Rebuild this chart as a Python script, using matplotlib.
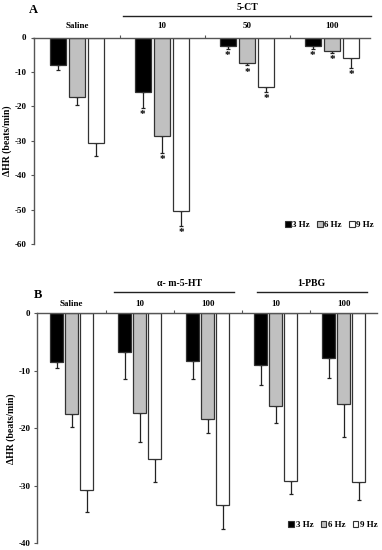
import matplotlib
matplotlib.use("Agg")
import matplotlib.pyplot as plt
import matplotlib.transforms as mtransforms
from matplotlib.patches import Patch
import numpy as np

plt.rcParams['font.family'] = ['Liberation Serif', 'DejaVu Serif']
plt.rcParams['font.weight'] = 'bold'

freqs = ["3 Hz", "6 Hz", "9 Hz"]
colors = ["#000000", "#c0c0c0", "#ffffff"]

# Panel A
a_groups = ["Saline", "10", "50", "100"]
a_3hz = [-8.1, -15.7, -2.4, -2.4]
a_6hz = [-17.2, -28.5, -7.3, -3.8]
a_9hz = [-30.7, -50.2, -14.4, -6.0]
a_3hz_err = [1.4, 4.8, 1.0, 0.9]
a_6hz_err = [2.5, 4.9, 0.8, 0.8]
a_9hz_err = [3.6, 4.6, 1.3, 2.9]
a_sig = [False, True, True, True]
a_yticks = [0, -10, -20, -30, -40, -50, -60]

# Panel B
b_groups = ["Saline", "10", "100", "10", "100"]
b_3hz = [-8.4, -6.8, -8.35, -9.0, -7.8]
b_6hz = [-17.5, -17.3, -18.3, -16.1, -15.7]
b_9hz = [-30.7, -25.4, -33.3, -29.2, -29.3]
b_3hz_err = [1.2, 4.6, 3.15, 3.5, 3.5]
b_6hz_err = [2.2, 5.1, 2.5, 2.9, 5.9]
b_9hz_err = [3.8, 4.0, 4.3, 2.2, 3.2]
b_yticks = [0, -10, -20, -30, -40]

W, H = 382, 550
fig = plt.figure(figsize=(W / 100, H / 100), dpi=100)


def px_to_fig(x0, y0, x1, y1):
    return [x0 / W, 1 - y1 / H, (x1 - x0) / W, (y1 - y0) / H]


def draw_panel(ax, groups, vals, errs, sig, yticks, xlim, bw, step, legend_pos):
    n = len(groups)
    x = np.arange(n)
    for i, (v, e, c) in enumerate(zip(vals, errs, colors)):
        xs = x + (i - 1) * step
        ax.bar(xs, v, width=bw, color=c, edgecolor="#333333", linewidth=0.9, zorder=2)
        ax.errorbar(xs, v, yerr=[e, np.zeros(n)], fmt="none", ecolor="#222222",
                    elinewidth=0.9, capsize=1.5, capthick=0.9, zorder=1)
        if sig is not None:
            for j in range(n):
                if sig[j]:
                    ax.annotate("*", (xs[j], v[j] - e[j]), xytext=(0, -1.5),
                                textcoords="offset points", ha="center", va="top",
                                fontsize=8, fontweight="bold")
    ax.set_xlim(*xlim)
    ax.set_ylim(min(yticks), 0)
    ax.set_yticks(yticks)
    ax.set_yticklabels([str(t) for t in yticks], fontsize=6.5, fontweight="bold")
    ax.spines["bottom"].set_visible(False)
    ax.spines["right"].set_visible(False)
    ax.spines["top"].set_color("#555555")
    ax.spines["left"].set_color("#555555")
    ax.spines["top"].set_linewidth(1.0)
    ax.spines["left"].set_linewidth(1.0)
    ax.xaxis.set_ticks_position("top")
    ax.set_xticks(np.arange(n - 1) + 0.5)
    ax.set_xticklabels([])
    ax.tick_params(axis="x", direction="out", length=2, width=0.8, color="#555555")
    ax.tick_params(axis="y", direction="out", length=2, width=0.8, color="#555555", pad=3)
    ax.set_ylabel("ΔHR (beats/min)", fontsize=7, fontweight="bold", labelpad=2)
    handles = [Patch(facecolor=c, edgecolor="#333333", linewidth=0.8, label=f) for c, f in zip(colors, freqs)]
    ax.legend(handles=handles, loc="center", bbox_to_anchor=legend_pos, ncol=3, frameon=False,
              fontsize=6.5, handlelength=0.6, handleheight=0.6, handletextpad=0.2,
              columnspacing=0.8, borderaxespad=0)


# Panel A axes
axA = fig.add_axes(px_to_fig(33.5, 37.5, 370, 244.3))
draw_panel(axA, a_groups, [a_3hz, a_6hz, a_9hz], [a_3hz_err, a_6hz_err, a_9hz_err], a_sig,
           a_yticks, (-0.512, 3.447), 0.188, 0.227, (0.88, 0.093))
trA = mtransforms.blended_transform_factory(axA.transData, fig.transFigure)
for j, g in enumerate(a_groups):
    fig.text(j, 1 - 26 / H, g, transform=trA, ha="center", va="center", fontsize=6.5, fontweight="bold")
fig.text(2.0, 1 - 8 / H, "5-CT", transform=trA, ha="center", va="center", fontsize=7, fontweight="bold")
axA.plot([0.54, 3.46], [1 - 15.7 / H] * 2, transform=trA, color="#222222", lw=1.0, clip_on=False)
fig.text(33 / W, 1 - 10 / H, "A", ha="center", va="center", fontsize=9, fontweight="bold")

# Panel B axes
axB = fig.add_axes(px_to_fig(37.3, 313.3, 376.7, 543.3))
draw_panel(axB, b_groups, [b_3hz, b_6hz, b_9hz], [b_3hz_err, b_6hz_err, b_9hz_err], None,
           b_yticks, (-0.506, 4.485), 0.184, 0.221, (0.871, 0.08))
trB = mtransforms.blended_transform_factory(axB.transData, fig.transFigure)
for j, g in enumerate(b_groups):
    fig.text(j, 1 - 303.5 / H, g, transform=trB, ha="center", va="center", fontsize=6.5, fontweight="bold")
fig.text(1.59, 1 - 283 / H, "α- m-5-HT", transform=trB, ha="center", va="center", fontsize=7, fontweight="bold")
axB.plot([0.62, 2.39], [1 - 292.3 / H] * 2, transform=trB, color="#222222", lw=1.0, clip_on=False)
fig.text(3.53, 1 - 283 / H, "1-PBG", transform=trB, ha="center", va="center", fontsize=7, fontweight="bold")
axB.plot([2.73, 4.34], [1 - 292.3 / H] * 2, transform=trB, color="#222222", lw=1.0, clip_on=False)
fig.text(38 / W, 1 - 295 / H, "B", ha="center", va="center", fontsize=9, fontweight="bold")

fig.savefig("out.png", dpi=100)
